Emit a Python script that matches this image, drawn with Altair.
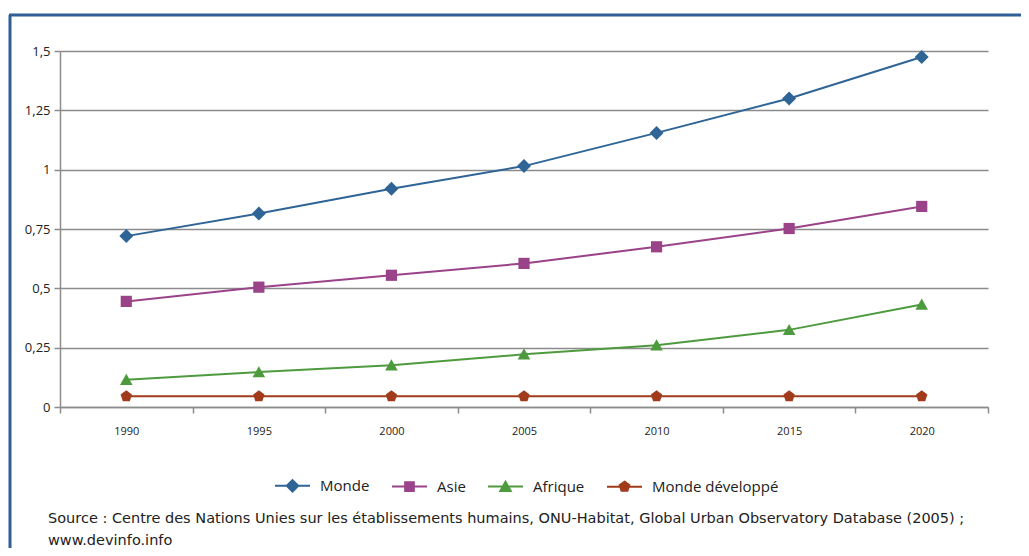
import altair as alt
import pandas as pd

years = ["1990", "1995", "2000", "2005", "2010", "2015", "2020"]
series = ["Monde", "Asie", "Afrique", "Monde développé"]
monde = [0.72, 0.815, 0.92, 1.015, 1.155, 1.30, 1.475]
asie = [0.445, 0.505, 0.555, 0.605, 0.675, 0.752, 0.845]
afrique = [0.115, 0.147, 0.176, 0.222, 0.26, 0.325, 0.432]
monde_dev = [0.045, 0.045, 0.045, 0.045, 0.045, 0.045, 0.045]
colors = ["#2f6496", "#9a4389", "#4e9a3e", "#a13b1c"]
source_text = ("Source : Centre des Nations Unies sur les établissements humains, ONU-Habitat, "
               "Global Urban Observatory Database (2005) ;\nwww.devinfo.info")

rows = []
for name, vals in zip(series, [monde, asie, afrique, monde_dev]):
    for yr, v in zip(years, vals):
        rows.append({"annee": yr, "valeur": v, "serie": name})
df = pd.DataFrame(rows)

# marker outlines (unit shapes) used for chart markers and legend symbols
shape_pts = [
    [(0, -1), (1, 0), (0, 1), (-1, 0)],
    [(-0.8, -0.8), (0.8, -0.8), (0.8, 0.8), (-0.8, 0.8)],
    [(0, -0.85), (0.9, 0.75), (-0.9, 0.75)],
    [(0, -0.85), (0.81, -0.26), (0.5, 0.69), (-0.5, 0.69), (-0.81, -0.26)],
]


def poly(pts, k, cx=0.0, cy=0.0):
    s = "M" + "L".join(f"{cx + x * k:.3f},{cy + y * k:.3f}" for x, y in pts) + "Z"
    return s


marker_paths = [poly(p, 1.0) for p in shape_pts]
# legend symbol: a line segment with a (stroke-filled) marker in the middle
legend_scale = [0.33, 0.31, 0.33, 0.34]
legend_paths = []
for p, m in zip(shape_pts, legend_scale):
    cy = sum(y for _, y in p) / len(p)
    path = "M-1,0H1"
    for f in [1.0, 0.72, 0.45, 0.2]:
        pts = [(x * f, cy + (y - cy) * f) for x, y in p]
        path += poly(pts, m)
    legend_paths.append(path)

xenc = alt.X("annee:N", title=None,
             scale=alt.Scale(type="band", domain=years, paddingInner=0, paddingOuter=0),
             axis=alt.Axis(labelAngle=0, tickBand="extent", domainColor="#8c8c8c",
                           tickColor="#8c8c8c", tickSize=6, tickWidth=1.5, domainWidth=1.5,
                           labelPadding=12, labelFontSize=11, labelColor="#222222",
                           grid=False))
yenc = alt.Y("valeur:Q", title=None,
             scale=alt.Scale(domain=[0, 1.5], nice=False),
             axis=alt.Axis(values=[0, 0.25, 0.5, 0.75, 1, 1.25, 1.5],
                           labelExpr="replace(toString(datum.value), '.', ',')",
                           gridColor="#8c8c8c", gridWidth=1.5, domainColor="#8c8c8c",
                           domainWidth=1.5, tickColor="#8c8c8c", tickWidth=1.5, tickSize=6,
                           labelPadding=4, labelFontSize=13, labelColor="#222222"))

col_scale = alt.Scale(domain=series, range=colors)
leg = alt.Legend(orient="none", legendX=214, legendY=416, direction="horizontal", title=None,
                 symbolSize=1225, symbolStrokeWidth=2, labelFontSize=15, labelOffset=9,
                 columnPadding=18, labelColor="#222222", symbolOpacity=1)

base = alt.Chart(df)
lines = base.mark_line(strokeWidth=2).encode(
    x=xenc, y=yenc, color=alt.Color("serie:N", scale=col_scale, legend=leg))

point_layers = []
for name, path in zip(series, marker_paths):
    point_layers.append(
        base.transform_filter(alt.datum.serie == name)
        .mark_point(filled=True, size=196, opacity=1, shape=path)
        .encode(x=xenc, y=yenc, color=alt.Color("serie:N", scale=col_scale, legend=leg))
    )

legend_layer = base.transform_filter("false").mark_point(filled=False, strokeWidth=2).encode(
    x=xenc, y=yenc,
    color=alt.Color("serie:N", scale=col_scale, legend=leg),
    shape=alt.Shape("serie:N", scale=alt.Scale(domain=series, range=legend_paths), legend=leg))

one = pd.DataFrame({"k": [0]})
border_left = alt.Chart(one).mark_rule(color="#2f5f96", strokeWidth=3).encode(
    x=alt.value(-50), y=alt.value(-36), y2=alt.value(497))
border_top = alt.Chart(one).mark_rule(color="#2f5f96", strokeWidth=3).encode(
    x=alt.value(-51), x2=alt.value(961), y=alt.value(-36))
source = alt.Chart(one).mark_text(align="left", baseline="middle", fontSize=14.5, font="DejaVu Sans",
                                  lineBreak="\n", lineHeight=22, color="#222222").encode(
    x=alt.value(-12), y=alt.value(468), text=alt.value(source_text))

chart = alt.layer(lines, *point_layers, legend_layer, border_left, border_top, source).properties(
    width=928, height=356,
    autosize=alt.AutoSizeParams(type="none"),
    padding={"left": 52, "top": 43, "right": 33, "bottom": 141},
).configure(font="Open Sans").configure_view(stroke="transparent")

chart.save("out.html", embed_options={"renderer": "svg", "actions": False})
